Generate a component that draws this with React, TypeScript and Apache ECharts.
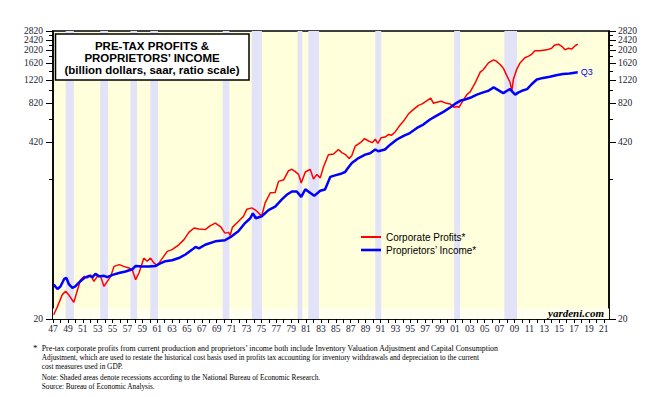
import React, { useEffect, useRef } from 'react';
import * as echarts from 'echarts';

const profitYears = [
  1947.1, 1947.6, 1948.25, 1948.7, 1949.1, 1949.4, 1949.8, 1950.3, 1950.7, 1951.2,
  1951.6, 1952.05, 1952.5, 1952.95, 1953.4, 1953.85, 1954.3, 1954.75, 1955.2, 1955.9,
  1956.5, 1957.2, 1957.65, 1958.1, 1958.55, 1959.2, 1959.65, 1960.1, 1960.55, 1961.0,
  1961.7, 1962.35, 1963.0, 1963.9, 1964.6, 1965.25, 1965.95, 1966.6, 1967.45, 1968.1,
  1968.8, 1969.5, 1970.1, 1970.6, 1970.8, 1971.1, 1971.9, 1972.6, 1973.05, 1973.7,
  1974.2, 1974.85, 1975.05, 1975.5, 1976.2, 1976.85, 1977.3, 1978.0, 1978.65, 1979.1,
  1979.55, 1980.0, 1980.35, 1980.9, 1981.55, 1982.0, 1982.45, 1982.9, 1983.35, 1984.0,
  1984.7, 1985.35, 1985.8, 1986.25, 1986.8, 1987.15, 1987.6, 1988.3, 1988.85, 1989.4,
  1989.9, 1990.3, 1990.65, 1991.1, 1991.6, 1992.1, 1992.5, 1993.0, 1993.5, 1994.1,
  1994.75, 1995.4, 1996.1, 1996.6, 1997.2, 1997.75, 1998.1, 1998.55, 1999.15, 1999.7,
  2000.35, 2000.9, 2001.25, 2001.55, 2001.9, 2002.6, 2003.05, 2003.7, 2004.4, 2004.8,
  2005.5, 2006.2, 2006.55, 2007.1, 2007.5, 2008.0, 2008.4, 2008.65, 2008.85, 2009.3,
  2009.75, 2010.4, 2010.9, 2011.3, 2011.75, 2012.4, 2013.35, 2014.0, 2014.35, 2014.9,
  2015.35, 2015.8, 2016.25, 2016.7, 2017.15, 2017.5,
];
const profitValues = [
  21.5, 24.8, 30.4, 32.2, 30.4, 28.7, 26.6, 33.1, 39.3, 41.6,
  40.5, 42.7, 38.2, 41.6, 41.6, 35.0, 38.2, 41.6, 49.4, 50.9,
  49.4, 48.1, 46.7, 39.3, 44.1, 56.9, 53.9, 56.9, 52.5, 50,
  56.9, 63.9, 65.9, 71.6, 78.2, 88.6, 95.6, 94.0, 92.9, 99,
  104, 98, 87.5, 88.6, 84, 96.6, 107, 117, 132, 135,
  130, 120, 118, 147, 175, 176, 213, 219, 256, 262,
  252, 240, 207, 250, 262, 222, 240, 226, 274, 336,
  341, 368, 349, 339, 315, 332, 390, 414, 444, 426,
  414, 439, 409, 451, 456, 477, 471, 500, 548, 600,
  677, 731, 786, 806, 850, 891, 816, 828, 843, 820,
  806, 760, 770, 760, 820, 945, 990, 1150, 1390, 1450,
  1630, 1720, 1680, 1580, 1490, 1300, 1170, 1010, 1225, 1460,
  1630, 1780, 1830, 1890, 2010, 2010, 2040, 2100, 2210, 2250,
  2170, 2040, 2100, 2070, 2190, 2250,
];

const incomeYears = [
  1947.1, 1947.6, 1948.0, 1948.5, 1948.8, 1949.15, 1949.6, 1950.0, 1950.5, 1951.2,
  1951.85, 1952.3, 1952.7, 1953.2, 1953.85, 1954.3, 1955.0, 1955.85, 1956.75, 1957.65,
  1958.1, 1959.0, 1959.9, 1960.8, 1961.2, 1962.1, 1963.0, 1963.9, 1964.8, 1965.7,
  1966.15, 1966.6, 1967.45, 1968.8, 1970.1, 1971.0, 1971.9, 1972.8, 1973.5, 1973.85,
  1974.25, 1975.05, 1975.95, 1976.85, 1977.75, 1978.4, 1979.1, 1979.75, 1980.35, 1980.9,
  1981.3, 1982.1, 1982.9, 1983.55, 1984.25, 1984.9, 1985.8, 1986.25, 1986.5, 1987.15,
  1988.05, 1988.95, 1989.6, 1990.3, 1990.7, 1991.6, 1992.3, 1993.2, 1994.1, 1994.95,
  1995.9, 1996.75, 1997.65, 1998.55, 1999.45, 2000.35, 2001.0, 2001.7, 2002.35, 2003.05,
  2003.95, 2004.8, 2005.5, 2006.2, 2006.6, 2007.1, 2007.5, 2008.0, 2008.4, 2008.8,
  2009.1, 2009.55, 2010.0, 2010.7, 2011.3, 2012.0, 2012.85, 2013.75, 2014.6, 2015.5,
  2016.4, 2017.5,
];
const incomeValues = [
  36.2, 33.5, 35, 39.8, 40.5, 36.2, 34.1, 35, 37.5, 40.5,
  42, 41.1, 43.5, 41.6, 42, 41.1, 42.7, 44.1, 45.2, 47,
  49.8, 49.4, 49.4, 49.8, 51.3, 54.0, 54.9, 57, 60.6, 65.9,
  69, 67.3, 71.6, 76, 77.4, 82.8, 90.3, 104, 113, 123,
  113, 117, 130, 138, 156, 169, 179, 179, 163, 186,
  179, 166, 181, 185, 230, 236, 244, 250, 262, 292,
  318, 337, 345, 368, 357, 368, 400, 437, 466, 488,
  533, 565, 616, 659, 703, 757, 806, 850, 869, 895,
  945, 983, 1010, 1070, 1040, 1000, 970, 1010, 1040, 983,
  945, 983, 1010, 1040, 1130, 1225, 1260, 1285, 1320, 1345,
  1360, 1390,
];

const recessionStarts = [1948.7, 1953.35, 1957.4, 1960.07, 1969.8, 1973.7, 1979.85, 1981.3, 1990.3, 2000.9, 2007.65];
const recessionEnds = [1949.8, 1954.4, 1958.3, 1961.1, 1970.7, 1975.07, 1980.5, 1982.75, 1991.1, 2001.7, 2009.35];

const yLabelValues = [20, 420, 820, 1220, 1620, 2020, 2420, 2820];
const yMinorTickValues = [20, 220, 420, 620, 820, 1020, 1220, 1420, 1620, 1820, 2020, 2220, 2420, 2620, 2820];
const xLabelYears = [
  1947, 1949, 1951, 1953, 1955, 1957, 1959, 1961, 1963, 1965, 1967, 1969, 1971, 1973, 1975,
  1977, 1979, 1981, 1983, 1985, 1987, 1989, 1991, 1993, 1995, 1997, 1999, 2001, 2003, 2005,
  2007, 2009, 2011, 2013, 2015, 2017, 2019, 2021,
];
const xTickYears: number[] = [];
for (let y = 1947; y <= 2021; y++) xTickYears.push(y);

// labels alternate over two stacked axes so that close labels are not auto-hidden
const yLabelsA = yLabelValues.filter((_, i) => i % 2 === 0);
const yLabelsB = yLabelValues.filter((_, i) => i % 2 === 1);

const titleLines = ['PRE-TAX PROFITS &', 'PROPRIETORS’ INCOME', '(billion dollars, saar, ratio scale)'];
const footnoteLines = [
  'Pre-tax corporate profits from current production and proprietors’ income both include Inventory Valuation Adjustment and Capital Consumption',
  'Adjustment, which are used to restate the historical cost basis used in profits tax accounting for inventory withdrawals and depreciation to the current',
  'cost measures used in GDP.',
  'Note: Shaded areas denote recessions according to the National Bureau of Economic Research.',
  'Source: Bureau of Economic Analysis.',
];
const footnoteY = [348.3, 357.7, 366.7, 376.8, 386];
const footnoteScale = [0.872, 0.815, 0.815, 0.815, 0.81];

const SERIF = "'Liberation Serif', 'Times New Roman', serif";
const SANS = "'Liberation Sans', Arial, sans-serif";
const LABEL_COLOR = '#1a1a33';

function yAxisDef(position: 'left' | 'right', major: boolean) {
  return {
    type: 'log',
    min: 20,
    max: 2821,
    position,
    splitLine: { show: false },
    axisLine: { show: major, lineStyle: { color: '#000', width: 1.5 } },
    axisTick: {
      show: true,
      customValues: major ? yLabelValues : yMinorTickValues,
      length: major ? 7 : 4,
      lineStyle: { color: '#000', width: 1 },
    },
    axisLabel: {
      show: true,
      customValues: major ? yLabelsA : yLabelsB,
      showMinLabel: true,
      showMaxLabel: true,
      hideOverlap: false,
      margin: position === 'left' ? 10 : 9,
      fontFamily: SERIF,
      fontSize: 9.5,
      color: LABEL_COLOR,
      formatter: (v: number) => String(Math.round(v)),
    },
  };
}

export default function App() {
  const ref = useRef<HTMLDivElement>(null);
  useEffect(() => {
    const chart = echarts.init(ref.current!, null, { renderer: 'svg' });
    const profitData = profitYears.map((y, i) => [y, profitValues[i]]);
    const incomeData = incomeYears.map((y, i) => [y, incomeValues[i]]);
    const bands: any[] = [[{ yAxis: 20, itemStyle: { color: '#FFFFF0' } }, { yAxis: 24 }]];
    recessionStarts.forEach((s, i) => {
      bands.push([{ xAxis: s }, { xAxis: recessionEnds[i] }]);
    });

    const graphics: any[] = [
      {
        type: 'rect',
        z: 100,
        shape: { x: 55.5, y: 34, width: 193.5, height: 46 },
        style: { fill: '#fff', stroke: '#000', lineWidth: 1.5 },
      },
      ...titleLines.map((t, i) => ({
        type: 'text',
        z: 101,
        x: 152,
        y: [45.7, 57.5, 69.7][i],
        style: {
          text: t,
          font: `bold 11.5px ${SANS}`,
          fill: '#000',
          align: 'center',
          verticalAlign: 'middle',
          textAlign: 'center',
          textVerticalAlign: 'middle',
        },
      })),
      {
        type: 'text',
        z: 101,
        x: 604,
        y: 313,
        style: {
          text: 'yardeni.com',
          font: `italic bold 11px ${SERIF}`,
          fill: '#000',
          align: 'right',
          verticalAlign: 'middle',
          textAlign: 'right',
          textVerticalAlign: 'middle',
        },
      },
      {
        type: 'text',
        z: 101,
        x: 33,
        y: 348.3,
        style: { text: '*', font: `9px ${SERIF}`, fill: '#000', verticalAlign: 'middle', textVerticalAlign: 'middle' },
      },
      ...footnoteLines.map((t, i) => ({
        type: 'text',
        z: 101,
        x: 41.7,
        y: footnoteY[i],
        scaleX: footnoteScale[i],
        style: {
          text: t,
          font: `9px ${SERIF}`,
          fill: '#000',
          verticalAlign: 'middle',
          textVerticalAlign: 'middle',
        },
      })),
    ];

    chart.setOption({
      animation: false,
      backgroundColor: '#fff',
      grid: {
        left: 53,
        top: 31,
        width: 556,
        height: 288,
        show: true,
        backgroundColor: '#FFFFDC',
        borderColor: '#000',
        borderWidth: 1.5,
        containLabel: false,
      },
      legend: {
        orient: 'vertical',
        left: 361,
        top: 232,
        itemWidth: 20,
        itemHeight: 10,
        itemGap: 3,
        padding: 0,
        data: [
          { name: 'Corporate Profits*', icon: 'path://M0,0L20,0L20,2L0,2Z' },
          { name: 'Proprietors’ Income*', icon: 'path://M0,0L20,0L20,2.6L0,2.6Z' },
        ],
        textStyle: { fontFamily: SANS, fontSize: 10, color: '#000' },
      },
      xAxis: {
        type: 'value',
        min: 1947,
        max: 2021.7,
        interval: 1,
        splitLine: { show: false },
        axisLine: { lineStyle: { color: '#000', width: 1.5 } },
        axisTick: { customValues: xTickYears, length: 4, lineStyle: { color: '#000' } },
        axisLabel: {
          customValues: xLabelYears,
          margin: 5,
          fontFamily: SERIF,
          fontSize: 9.5,
          color: LABEL_COLOR,
          formatter: (v: number) => String(Math.round(v) % 100).padStart(2, '0'),
        },
      },
      yAxis: [yAxisDef('left', true), yAxisDef('left', false), yAxisDef('right', true), yAxisDef('right', false)],
      series: [
        {
          name: 'recessions',
          type: 'line',
          data: [],
          z: 1,
          silent: true,
          markArea: {
            silent: true,
            itemStyle: { color: '#E2E2F9' },
            data: bands,
          },
        },
        {
          name: 'Corporate Profits*',
          type: 'line',
          data: profitData,
          symbol: 'none',
          z: 3,
          lineStyle: { color: '#FF0000', width: 1.5 },
          itemStyle: { color: '#FF0000' },
        },
        {
          name: 'Proprietors’ Income*',
          type: 'line',
          data: incomeData,
          symbol: 'none',
          z: 4,
          lineStyle: { color: '#0000FF', width: 2.5 },
          itemStyle: { color: '#0000FF' },
          endLabel: {
            show: true,
            formatter: 'Q3',
            color: '#0000FF',
            fontFamily: SANS,
            fontSize: 9,
            distance: 3,
          },
        },
      ],
      graphic: graphics,
    });
    return () => chart.dispose();
  }, []);
  return (
    <div
      ref={ref}
      style={{ position: 'absolute', left: 0, top: 0, width: 655, height: 397, background: '#fff' }}
    />
  );
}
